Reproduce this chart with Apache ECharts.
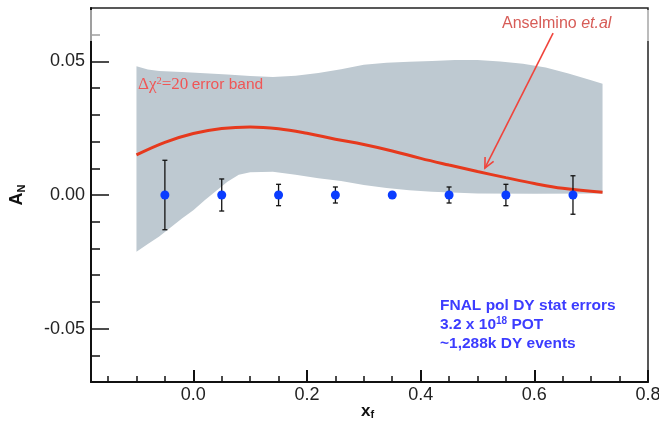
<!DOCTYPE html>
<html>
<head>
<meta charset="utf-8">
<script src="https://cdn.jsdelivr.net/npm/echarts@6/dist/echarts.min.js"></script>
<style>
  html, body { margin: 0; padding: 0; background: #fff; }
  #chart { width: 659px; height: 425px; }
</style>
</head>
<body>
<div id="chart"></div>
<script>
// Axis ranges and tick positions
const xRange = [-0.18, 0.8];
const yRange = [-0.07, 0.07];
const xMajorTicks = [0.0, 0.2, 0.4, 0.6, 0.8];
const xMinorTicks = [-0.15, -0.1, -0.05, 0.05, 0.1, 0.15, 0.25, 0.3, 0.35, 0.45, 0.5, 0.55, 0.65, 0.7, 0.75];
const yMajorTicks = [-0.05, 0.0, 0.05];
const yMinorTicks = [-0.06, -0.04, -0.03, -0.02, -0.01, 0.01, 0.02, 0.03, 0.04, 0.06];

// Δχ²=20 error band: upper and lower edges [x_F, A_N]
const bandUpper = [
  [-0.1, 0.0482], [-0.08, 0.0470], [-0.06, 0.0464], [-0.02, 0.0460], [0.02, 0.0456],
  [0.06, 0.0451], [0.1, 0.0445], [0.14, 0.0442], [0.18, 0.0446], [0.22, 0.0457],
  [0.26, 0.0471], [0.3, 0.0488], [0.34, 0.0495], [0.38, 0.0499], [0.42, 0.0502],
  [0.46, 0.0505], [0.5, 0.0505], [0.54, 0.0500], [0.58, 0.0491], [0.62, 0.0477],
  [0.66, 0.0455], [0.7, 0.0430], [0.72, 0.0416]
];
const bandLower = [
  [-0.1, -0.0212], [-0.08, -0.0183], [-0.06, -0.0155], [-0.04, -0.0122], [-0.02, -0.0088],
  [0.0, -0.0057], [0.02, -0.0020], [0.04, 0.0015], [0.06, 0.0050], [0.08, 0.0076],
  [0.1, 0.0085], [0.14, 0.0087], [0.18, 0.0076], [0.22, 0.0063], [0.26, 0.0052],
  [0.3, 0.0037], [0.34, 0.0026], [0.38, 0.0018], [0.42, 0.0012], [0.5, 0.0006],
  [0.6, 0.0005], [0.72, 0.0006]
];

// Anselmino et al. central curve
const curveX = [-0.1, -0.05, 0.0, 0.05, 0.1, 0.15, 0.2, 0.25, 0.3, 0.35, 0.4, 0.45, 0.5, 0.55, 0.6, 0.65, 0.72];
const curveY = [0.0150, 0.0197, 0.0230, 0.0249, 0.0255, 0.0248, 0.0231, 0.0209, 0.0189, 0.0165, 0.0137, 0.0112, 0.0088, 0.0065, 0.0043, 0.0025, 0.0010];

// Projected statistical errors
const pointX = [-0.05, 0.05, 0.15, 0.25, 0.35, 0.45, 0.55, 0.668];
const pointY = [0, 0, 0, 0, 0, 0, 0, 0];
const pointErr = [0.013, 0.006, 0.004, 0.003, 0.001, 0.003, 0.004, 0.0072];

// Annotation arrow (from label to curve), in data units
const arrowFrom = [0.633, 0.0606];
const arrowTo = [0.513, 0.0101];

const chart = echarts.init(document.getElementById('chart'), null, { renderer: 'canvas' });

const axisColor = '#111';
const sans = 'Liberation Sans, Arial, sans-serif';
const serif = 'Liberation Serif, Times New Roman, serif';
const labelFont = { fontFamily: sans, fontSize: 18, color: '#222' };

function majorX() {
  return {
    type: 'value', min: xRange[0], max: xRange[1], position: 'bottom',
    axisLine: { show: true, onZero: false, lineStyle: { color: axisColor, width: 2 } },
    axisTick: { show: true, inside: true, length: 12, customValues: xMajorTicks, lineStyle: { color: axisColor, width: 2 } },
    axisLabel: Object.assign({ show: true, margin: 4, customValues: xMajorTicks, formatter: v => v.toFixed(1) }, labelFont),
    splitLine: { show: false }
  };
}
function minorX() {
  return {
    type: 'value', min: xRange[0], max: xRange[1], position: 'bottom',
    axisLine: { show: false, onZero: false },
    axisTick: { show: true, inside: true, length: 6, customValues: xMinorTicks, lineStyle: { color: axisColor, width: 1.5 } },
    axisLabel: { show: false },
    splitLine: { show: false }
  };
}
function majorY() {
  return {
    type: 'value', min: yRange[0], max: yRange[1], position: 'left',
    axisLine: { show: true, onZero: false, lineStyle: { color: axisColor, width: 2 } },
    axisTick: { show: true, inside: true, length: 18, customValues: yMajorTicks, lineStyle: { color: axisColor, width: 1.5 } },
    axisLabel: Object.assign({ show: true, margin: 6, customValues: yMajorTicks, formatter: v => v.toFixed(2) }, labelFont),
    splitLine: { show: false }
  };
}
function minorY() {
  return {
    type: 'value', min: yRange[0], max: yRange[1], position: 'left',
    axisLine: { show: false, onZero: false },
    axisTick: { show: true, inside: true, length: 9, customValues: yMinorTicks, lineStyle: { color: axisColor, width: 1.5 } },
    axisLabel: { show: false },
    splitLine: { show: false }
  };
}

const option = {
  backgroundColor: '#fff',
  animation: false,
  grid: {
    left: 91, right: 11, top: 8, bottom: 43,
    show: true, borderColor: '#222', borderWidth: 1.5,
    containLabel: false, outerBoundsMode: 'none'
  },
  xAxis: [majorX(), minorX()],
  yAxis: [majorY(), minorY()],
  series: [
    {
      // error band polygon
      type: 'custom', name: 'band', z: 1, silent: true,
      data: [[0, 0]],
      renderItem: function (params, api) {
        const pts = [];
        bandUpper.forEach(p => pts.push(api.coord(p)));
        for (let i = bandLower.length - 1; i >= 0; i--) pts.push(api.coord(bandLower[i]));
        return { type: 'polygon', shape: { points: pts }, style: { fill: '#bec9d1', stroke: null } };
      }
    },
    {
      type: 'line', name: 'Anselmino et.al', z: 3,
      data: curveX.map((x, i) => [x, curveY[i]]),
      smooth: 0.4, showSymbol: false, symbol: 'none',
      lineStyle: { color: '#e6391d', width: 3 }
    },
    {
      // statistical error bars
      type: 'custom', name: 'errors', z: 4, silent: true,
      data: pointX.map((x, i) => [x, pointY[i], pointErr[i]]),
      encode: { x: 0, y: 1 },
      renderItem: function (params, api) {
        const x = api.value(0), y = api.value(1), e = api.value(2);
        const top = api.coord([x, y + e]);
        const bot = api.coord([x, y - e]);
        const cap = 2.5;
        const st = { stroke: '#111', lineWidth: 1.3 };
        return {
          type: 'group',
          children: [
            { type: 'line', shape: { x1: top[0], y1: top[1], x2: bot[0], y2: bot[1] }, style: st },
            { type: 'line', shape: { x1: top[0] - cap, y1: top[1], x2: top[0] + cap, y2: top[1] }, style: st },
            { type: 'line', shape: { x1: bot[0] - cap, y1: bot[1], x2: bot[0] + cap, y2: bot[1] }, style: st }
          ]
        };
      }
    },
    {
      type: 'scatter', name: 'FNAL pol DY', z: 5,
      data: pointX.map((x, i) => [x, pointY[i]]),
      symbol: 'circle', symbolSize: 9,
      itemStyle: { color: '#0a3cff', opacity: 1 }
    },
    {
      // annotation arrow pointing at the curve
      type: 'custom', name: 'arrow', z: 60, silent: true,
      data: [[arrowFrom[0], arrowFrom[1], arrowTo[0], arrowTo[1]]],
      encode: { x: [0, 2], y: [1, 3] },
      renderItem: function (params, api) {
        const a = api.coord([api.value(0), api.value(1)]);
        const b = api.coord([api.value(2), api.value(3)]);
        const ang = Math.atan2(b[1] - a[1], b[0] - a[0]);
        const len = 11, spread = 0.45;
        const w1 = [b[0] - len * Math.cos(ang - spread), b[1] - len * Math.sin(ang - spread)];
        const w2 = [b[0] - len * Math.cos(ang + spread), b[1] - len * Math.sin(ang + spread)];
        const st = { stroke: '#f0443c', lineWidth: 1.6, fill: null };
        return {
          type: 'group',
          children: [
            { type: 'line', shape: { x1: a[0], y1: a[1], x2: b[0], y2: b[1] }, style: st },
            { type: 'polyline', shape: { points: [w1, b, w2] }, style: st }
          ]
        };
      }
    }
  ],
  graphic: [
    {
      // faded strip along the top of the frame
      type: 'rect', z: 50, silent: true,
      shape: { x: 84, y: 10, width: 572, height: 31 },
      style: { fill: 'rgba(255,255,255,0.6)' }
    },
    {
      type: 'text', z: 70, x: 138, y: 85,
      style: {
        text: '{g|Δχ}{sup|2}{g|=20} {s|error band}',
        verticalAlign: 'middle',
        rich: {
          g: { fontFamily: serif, fontSize: 17, fill: '#f05656', lineHeight: 19 },
          sup: { fontFamily: serif, fontSize: 10.5, fill: '#f05656', lineHeight: 10, verticalAlign: 'top' },
          s: { fontFamily: sans, fontSize: 15.5, fill: '#f05656', lineHeight: 19 }
        }
      }
    },
    {
      type: 'text', z: 70, x: 502, y: 24,
      style: {
        text: '{n|Anselmino }{i|et.al}',
        verticalAlign: 'middle',
        rich: {
          n: { fontFamily: sans, fontSize: 16, fill: '#d75c57' },
          i: { fontFamily: sans, fontSize: 16, fontStyle: 'italic', fill: '#d75c57' }
        }
      }
    },
    {
      type: 'text', z: 70, x: 440, y: 306,
      style: {
        text: 'FNAL pol DY stat errors', verticalAlign: 'middle',
        fontFamily: sans, fontSize: 15.5, fontWeight: 'bold', fill: '#3c3cff'
      }
    },
    {
      type: 'text', z: 70, x: 440, y: 325,
      style: {
        text: '{b|3.2 x 10}{sup|18}{b| POT}', verticalAlign: 'middle',
        rich: {
          b: { fontFamily: sans, fontSize: 15.5, fontWeight: 'bold', fill: '#3c3cff', lineHeight: 18 },
          sup: { fontFamily: sans, fontSize: 10, fontWeight: 'bold', fill: '#3c3cff', lineHeight: 10, verticalAlign: 'top' }
        }
      }
    },
    {
      type: 'text', z: 70, x: 440, y: 344,
      style: {
        text: '~1,288k DY events', verticalAlign: 'middle',
        fontFamily: sans, fontSize: 15.5, fontWeight: 'bold', fill: '#3c3cff'
      }
    },
    {
      // y-axis title A_N (rotated)
      type: 'text', z: 70, x: 17, y: 195, rotation: Math.PI / 2,
      style: {
        text: '{a|A}{s|N}', align: 'center', verticalAlign: 'middle',
        rich: {
          a: { fontFamily: sans, fontSize: 18, fontWeight: 'bold', fill: '#111', lineHeight: 20 },
          s: { fontFamily: sans, fontSize: 11, fontWeight: 'bold', fill: '#111', lineHeight: 11, verticalAlign: 'bottom' }
        }
      }
    },
    {
      // x-axis title x_f
      type: 'text', z: 70, x: 361, y: 411,
      style: {
        text: '{a|x}{s|f}', verticalAlign: 'middle',
        rich: {
          a: { fontFamily: sans, fontSize: 17, fontWeight: 'bold', fill: '#111', lineHeight: 18 },
          s: { fontFamily: sans, fontSize: 11, fontWeight: 'bold', fill: '#111', lineHeight: 11, verticalAlign: 'bottom' }
        }
      }
    }
  ]
};

chart.setOption(option);
</script>
</body>
</html>
